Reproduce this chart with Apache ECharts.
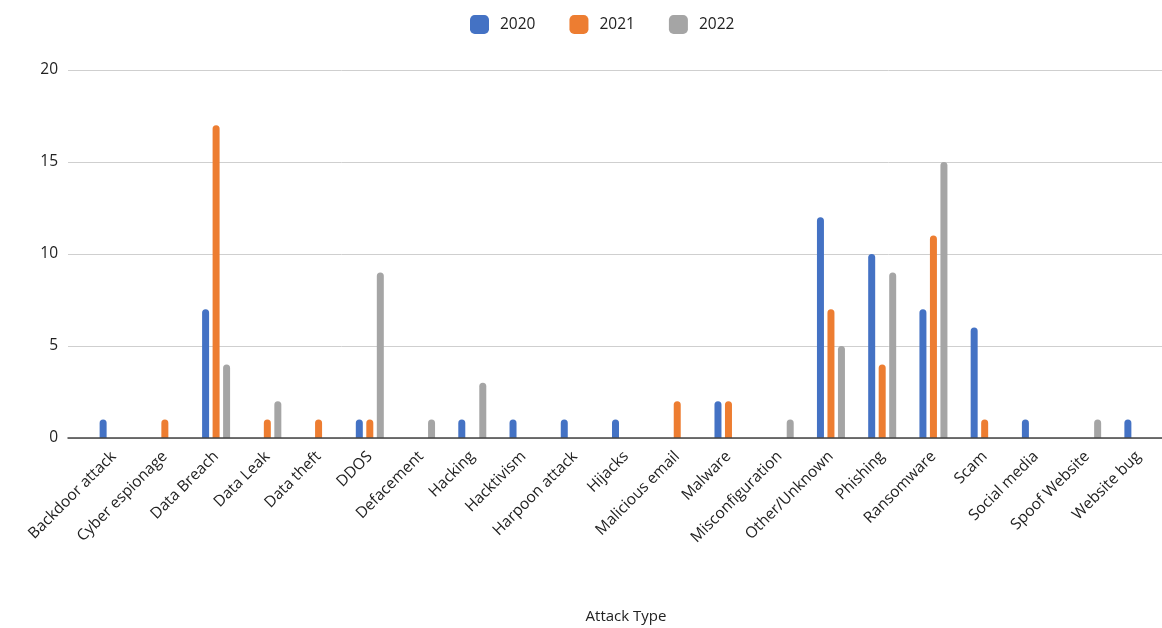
<!DOCTYPE html>
<html><head><meta charset="utf-8">
<script src="https://cdn.jsdelivr.net/npm/echarts@6/dist/echarts.min.js"></script>
<style>html,body{margin:0;padding:0;background:#fff}#c{width:1162px;height:628px}</style>
</head><body><div id="c"></div>
<script>
const categories = ["Backdoor attack","Cyber espionage","Data Breach","Data Leak","Data theft","DDOS","Defacement","Hacking","Hacktivism","Harpoon attack","Hijacks","Malicious email","Malware","Misconfiguration","Other/Unknown","Phishing","Ransomware","Scam","Social media","Spoof Website","Website bug"];
const y2020 = [1,0,7,0,0,1,0,1,1,1,1,0,2,0,12,10,7,6,1,0,1];
const y2021 = [0,1,17,1,1,1,0,0,0,0,0,2,2,0,7,4,11,1,0,0,0];
const y2022 = [0,0,4,2,0,9,1,3,0,0,0,0,0,1,5,9,15,0,0,1,0];
const yTicks = [0,5,10,15,20];

const font = "'Open Sans', 'Noto Sans', sans-serif";
const colors = ['#4472C4','#ED7D31','#A5A5A5'];
const mk = (name, data, i) => ({
  name, type:'bar', data, xAxisIndex:1, yAxisIndex:1,
  barWidth:7, barGap:'50%',
  itemStyle:{color:colors[i], borderRadius:[3.5,3.5,0,0]}
});
const chart = echarts.init(document.getElementById('c'));
chart.setOption({
  animation:false,
  color:colors,
  legend:{top:10, left:465, itemWidth:19, itemHeight:19, itemGap:34, icon:'roundRect',
    textStyle:{fontFamily:font, fontSize:15.5, color:'#222', padding:[0,0,0,6]},
    data:['2020','2021','2022']},
  grid:[
    {left:68, right:0, top:70, bottom:190, containLabel:false, outerBoundsMode:'none'},
    {left:88, width:1076, top:70, bottom:190, containLabel:false, outerBoundsMode:'none'}
  ],
  xAxis:[
    {type:'category', gridIndex:0, data:categories, axisLabel:{show:false}, axisTick:{show:false},
      axisLine:{lineStyle:{color:'#444', width:1.5}}, z:5},
    {type:'category', gridIndex:1, data:categories, axisTick:{show:false}, axisLine:{show:false},
      axisLabel:{rotate:45, interval:0, fontFamily:font, fontSize:15.5, color:'#222', margin:16},
      name:'Attack Type', nameLocation:'middle', nameGap:171,
      nameTextStyle:{fontFamily:font, fontSize:15, color:'#222'}}
  ],
  yAxis:[
    {type:'value', gridIndex:0, min:0, max:20, interval:5,
      axisLabel:{fontFamily:font, fontSize:15.5, color:'#222', margin:10,
        formatter:v=>yTicks.includes(v)?String(v):''},
      axisLine:{show:false}, axisTick:{show:false},
      splitLine:{lineStyle:{color:'#cfcfcf', width:1}}},
    {type:'value', gridIndex:1, min:0, max:20, interval:5, show:false}
  ],
  series:[mk('2020',y2020,0), mk('2021',y2021,1), mk('2022',y2022,2)]
});
</script></body></html>
